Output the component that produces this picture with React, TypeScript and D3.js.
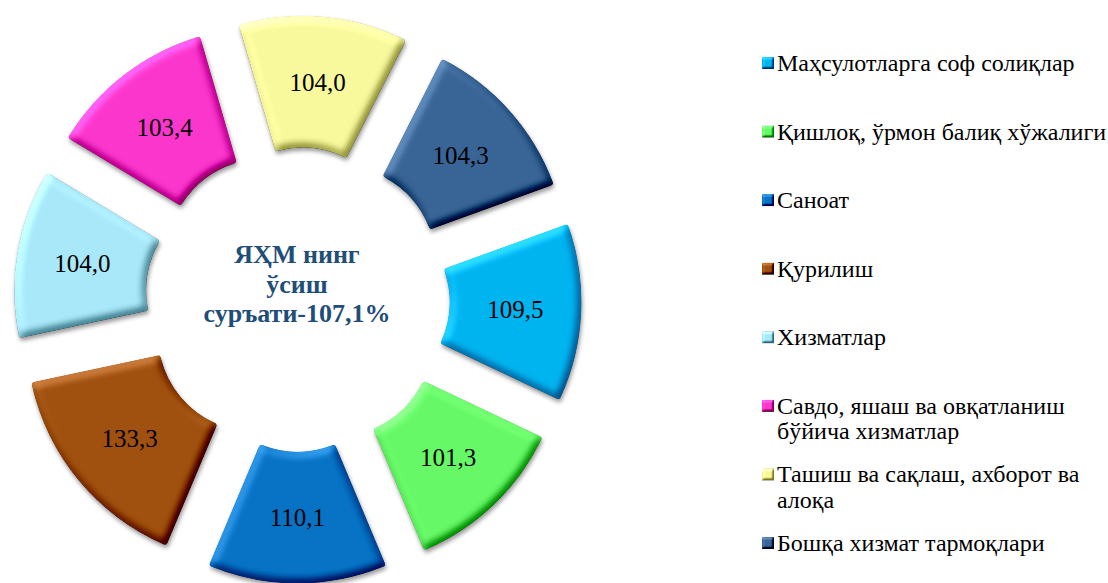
import React from 'react';
import * as d3 from 'd3';

// chart data
const categories = [
  'Маҳсулотларга соф солиқлар',
  'Қишлоқ, ўрмон балиқ хўжалиги',
  'Саноат',
  'Қурилиш',
  'Хизматлар',
  'Савдо, яшаш ва овқатланиш бўйича хизматлар',
  'Ташиш ва сақлаш, ахборот ва алоқа',
  'Бошқа хизмат тармоқлари',
];
const values = [109.5, 101.3, 110.1, 133.3, 104.0, 103.4, 104.0, 104.3];
const legendLines = [
  ['Маҳсулотларга соф солиқлар'],
  ['Қишлоқ, ўрмон балиқ хўжалиги'],
  ['Саноат'],
  ['Қурилиш'],
  ['Хизматлар'],
  ['Савдо, яшаш ва овқатланиш', 'бўйича хизматлар'],
  ['Ташиш ва сақлаш, ахборот ва', 'алоқа'],
  ['Бошқа хизмат тармоқлари'],
];
const colors = ['#00B4F0', '#66F866', '#0872C4', '#A0500F', '#A8E8F8', '#FA36CC', '#F8F89C', '#386496'];
const centerLines = ['ЯҲМ нинг', 'ўсиш', 'суръати-107,1%'];

const W = 1108;
const H = 583;
const cx = 297.5;
const cy = 299.5;
const outerR = 229;
const innerR = 97;
const explode = 55;
const startAngle = (70 * Math.PI) / 180;
const serif = "'Liberation Serif', 'Times New Roman', serif";

const fmt = d3.formatLocale({ decimal: ',', thousands: ' ', grouping: [3], currency: ['', ''] }).format('.1f');

export default function App() {
  const pie = d3
    .pie<number>()
    .sort(null)
    .value((d) => d)
    .startAngle(startAngle)
    .endAngle(startAngle + 2 * Math.PI);
  const arcs = pie(values);
  const arc = d3.arc<d3.PieArcDatum<number>>().innerRadius(innerR).outerRadius(outerR).cornerRadius(3);

  const legendY = d3.scalePoint<string>().domain(categories).range([71, 551]);

  return (
    <svg width={W} height={H} style={{ position: 'absolute', left: 0, top: 0, background: '#fff' }}>
      <defs>
        <filter id="bevel" x="-10%" y="-10%" width="125%" height="125%" colorInterpolationFilters="sRGB">
          <feGaussianBlur in="SourceAlpha" stdDeviation="4" result="blur" />
          <feDiffuseLighting in="blur" surfaceScale="5" diffuseConstant="1" lightingColor="#fff" result="light">
            <feDistantLight azimuth="235" elevation="45" />
          </feDiffuseLighting>
          <feComposite in="SourceGraphic" in2="light" operator="arithmetic" k1="0" k2="1" k3="0.6" k4="-0.424" result="lit" />
          <feComposite in="lit" in2="SourceAlpha" operator="in" result="bev" />
          <feGaussianBlur in="SourceAlpha" stdDeviation="2" result="sb" />
          <feOffset in="sb" dx="1" dy="3" result="so" />
          <feFlood floodColor="#000" floodOpacity="0.4" />
          <feComposite in2="so" operator="in" result="shadow" />
          <feMerge>
            <feMergeNode in="shadow" />
            <feMergeNode in="bev" />
          </feMerge>
        </filter>
        <filter id="bevelSmall" x="-20%" y="-20%" width="140%" height="140%" colorInterpolationFilters="sRGB">
          <feGaussianBlur in="SourceAlpha" stdDeviation="1.2" result="blur" />
          <feDiffuseLighting in="blur" surfaceScale="3" diffuseConstant="1" lightingColor="#fff" result="light">
            <feDistantLight azimuth="235" elevation="45" />
          </feDiffuseLighting>
          <feComposite in="SourceGraphic" in2="light" operator="arithmetic" k1="0" k2="1" k3="0.7" k4="-0.495" result="lit" />
          <feComposite in="lit" in2="SourceAlpha" operator="in" />
        </filter>
      </defs>

      <g transform={`translate(${cx},${cy})`}>
        {arcs.map((a, i) => {
          const mid = (a.startAngle + a.endAngle) / 2;
          const dx = explode * Math.sin(mid);
          const dy = -explode * Math.cos(mid);
          const [lx, ly] = arc.centroid(a);
          return (
            <g key={categories[i]} transform={`translate(${dx},${dy})`}>
              <path d={arc(a) || ''} fill={colors[i]} filter="url(#bevel)" />
              <text x={lx} y={ly} dy="0.35em" textAnchor="middle" fontFamily={serif} fontSize={25} fill="#000">
                {fmt(values[i])}
              </text>
            </g>
          );
        })}
        <text textAnchor="middle" fontFamily={serif} fontWeight="bold" fontSize={26} fill="#1F4E79">
          {centerLines.map((t, i) => (
            <tspan key={t} x={-0.5} y={-36.5 + i * 29.5}>
              {t}
            </tspan>
          ))}
        </text>
      </g>

      <g fontFamily={serif} fontSize={24} fill="#000">
        {categories.map((c, i) => {
          const y = legendY(c) || 0;
          return (
            <g key={c}>
              <rect x={762} y={y - 14} width={12} height={12} fill={colors[i]} filter="url(#bevelSmall)" />
              <text x={777} y={y}>
                {legendLines[i].map((t, j) => (
                  <tspan key={t} x={777} y={y + j * 25.5}>
                    {t}
                  </tspan>
                ))}
              </text>
            </g>
          );
        })}
      </g>
    </svg>
  );
}
